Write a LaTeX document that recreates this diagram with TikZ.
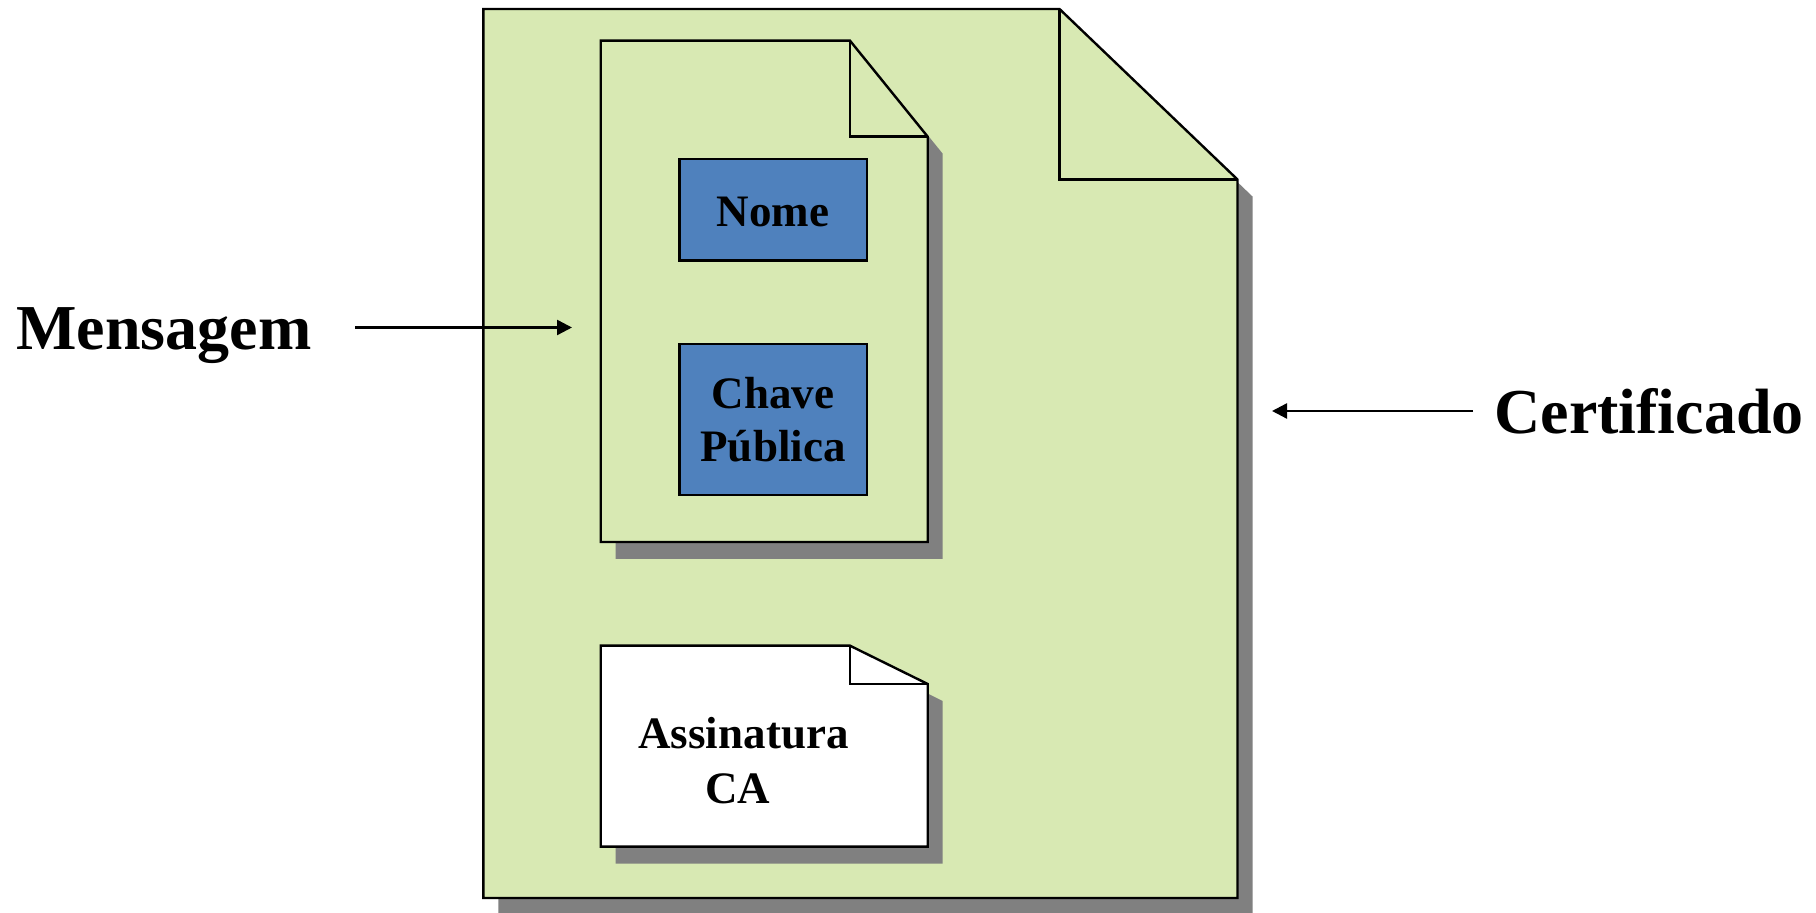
\documentclass[tikz,border=0pt]{standalone}
\usepackage{fontspec}
\setmainfont{Liberation Serif}
\usetikzlibrary{arrows.meta}

\definecolor{paper}{HTML}{D8E9B3}
\definecolor{keyblue}{HTML}{4F81BD}
\definecolor{shade}{HTML}{808080}

\tikzset{
  docline/.style={draw=black, line width=1.2pt, line join=miter},
  docshadow/.style={fill=shade, draw=none},
  field/.style={draw=black, line width=1.2pt, fill=keyblue, minimum width=93.7pt,
    inner sep=0pt, align=center, font=\fontsize{22.5}{26.5}\selectfont\bfseries},
  inner text/.style={inner sep=0pt, align=center, font=\fontsize{22.5}{27.5}\selectfont\bfseries},
  big text/.style={inner sep=0pt, font=\fontsize{32}{38}\selectfont\bfseries},
  pointer/.style={line width=1.2pt, -{Triangle[length=7.5pt,width=7.5pt]}},
}

% folded-corner page with drop shadow:
% #1 fill, #2 left, #3 top, #4 right, #5 bottom, #6 fold x, #7 fold y
\newcommand\folddoc[7]{%
  \fill[docshadow, shift={(15,17)}] (#2,#3) -- (#6,#3) -- (#4,#7) -- (#4,#5) -- (#2,#5) -- cycle;
  \filldraw[docline, fill=#1] (#2,#3) -- (#6,#3) -- (#4,#7) -- (#4,#5) -- (#2,#5) -- cycle;
  \draw[docline] (#6,#3) -- (#6,#7) -- (#4,#7);
}

\begin{document}
\begin{tikzpicture}[x=0.5pt, y=-0.5pt]
  \useasboundingbox (0,0) rectangle (1816,913);
  \begin{scope}
    \clip (0,0) rectangle (1816,913);

    % certificate page
    \folddoc{paper}{483.3}{9}{1237.5}{898}{1059.5}{179.5}
    % message page
    \folddoc{paper}{600.7}{40.7}{927.7}{542}{850}{136.7}
    % signature page
    \folddoc{white}{600.7}{645.7}{927.7}{846.7}{850}{684}
  \end{scope}

  % message fields
  \node[field, minimum height=50.7pt, text height=17pt] (nome) at (773,210) {Nome};
  \node[field, minimum height=75.5pt] (chave) at (773,419.5) {Chave\\Pública};

  % signature text
  \node[inner text] (assin) at (743.5,760.5) {Assinatura\\CA\hspace*{5.8pt}};

  % outside labels
  \node[big text, anchor=base west] (mensagem) at (16,350) {Mensagem};
  \node[big text, anchor=base west] (certificado) at (1494,434) {Certificado};

  % pointers
  \coordinate (msgfrom) at (355,327.5);
  \coordinate (msgto) at (572,327.5);
  \coordinate (certfrom) at (1473,411);
  \coordinate (certto) at (1272,411);
  \draw[pointer] (msgfrom) -- (msgto);
  \draw[pointer] (certfrom) -- (certto);
\end{tikzpicture}
\end{document}
